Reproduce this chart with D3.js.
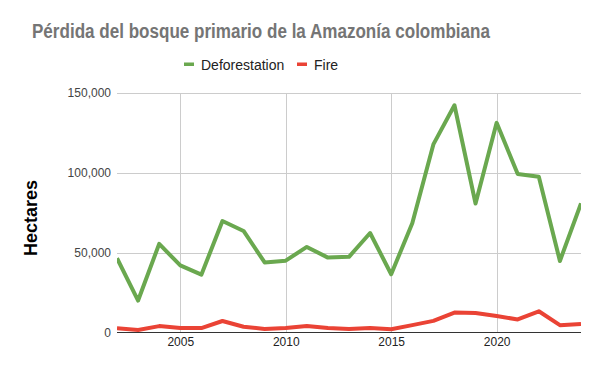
<!DOCTYPE html>
<html>
<head>
<meta charset="utf-8">
<script src="https://cdn.jsdelivr.net/npm/d3@7"></script>
<style>
  body { margin: 0; background: white; }
  svg { display: block; font-family: "Liberation Sans", Arial, sans-serif; }
</style>
</head>
<body>
<svg id="chart"></svg>
<script>
//data
const years = [2002, 2003, 2004, 2005, 2006, 2007, 2008, 2009, 2010, 2011, 2012, 2013,
               2014, 2015, 2016, 2017, 2018, 2019, 2020, 2021, 2022, 2023, 2024];
const deforestation = [46500, 20000, 55500, 42000, 36200, 69800, 63600, 43900, 45000, 53600, 46900, 47400,
                       62300, 36500, 68400, 117800, 142300, 80800, 131300, 99300, 97600, 44800, 80900];
const fire = [2600, 1600, 4000, 2800, 2800, 7200, 3600, 2200, 2800, 4000, 2800, 2200,
              2800, 2000, 4600, 7300, 12500, 12200, 10300, 8200, 13300, 4600, 5400];
const yTicks = [0, 50000, 100000, 150000];
const xTicks = [2005, 2010, 2015, 2020];
const seriesNames = ['Deforestation', 'Fire'];
const seriesColors = ['#6aa84f', '#ea4335'];

const w = 600, h = 371;
const plotL = 117, plotR = 581, plotT = 93, plotB = 332.5;

const svg = d3.select('#chart')
    .attr('width', w)
    .attr('height', h)

const x = d3.scaleLinear().domain([2002, 2024]).range([plotL, plotR])
const y = d3.scaleLinear().domain([0, 150000]).range([plotB, plotT])

//title (squeezed to the reference width)
svg.append('text')
    .attr('x', 32)
    .attr('y', 38)
    .attr('font-size', '20px')
    .attr('font-weight', 'bold')
    .attr('fill', '#757575')
    .attr('textLength', 458)
    .attr('lengthAdjust', 'spacingAndGlyphs')
    .text('Pérdida del bosque primario de la Amazonía colombiana')

//legend
const legendX = [184, 297];
const legend = svg.append('g')
seriesNames.forEach((name, i) => {
    legend.append('rect')
        .attr('x', legendX[i])
        .attr('y', 62.5)
        .attr('width', 10)
        .attr('height', 3.5)
        .attr('fill', seriesColors[i])
    legend.append('text')
        .attr('x', legendX[i] + 17)
        .attr('y', 69.5)
        .attr('font-size', '14px')
        .attr('fill', '#222')
        .text(name)
})

//gridlines
const grid = svg.append('g')
grid.selectAll('line.h')
    .data(yTicks.filter(d => d > 0))
    .enter()
    .append('line')
    .attr('x1', plotL)
    .attr('x2', plotR)
    .attr('y1', d => Math.round(y(d)) + 0.5)
    .attr('y2', d => Math.round(y(d)) + 0.5)
    .attr('stroke', '#cccccc')

grid.selectAll('line.v')
    .data(xTicks)
    .enter()
    .append('line')
    .attr('x1', d => Math.round(x(d)) + 0.5)
    .attr('x2', d => Math.round(x(d)) + 0.5)
    .attr('y1', plotT)
    .attr('y2', plotB)
    .attr('stroke', '#cccccc')

//y axis labels
const yAxis = svg.append('g')
    .attr('transform', 'translate(111,0)')
    .call(d3.axisLeft(y).tickValues(yTicks).tickSize(0).tickPadding(0).tickFormat(d3.format(',')))
yAxis.select('.domain').remove()
yAxis.selectAll('text')
    .attr('font-size', '12px')
    .attr('font-family', '"Liberation Sans", Arial, sans-serif')
    .attr('fill', '#444')

//x axis labels
const xAxis = svg.append('g')
    .attr('transform', 'translate(0,' + plotB + ')')
    .call(d3.axisBottom(x).tickValues(xTicks).tickSize(0).tickPadding(5).tickFormat(d3.format('d')))
xAxis.select('.domain').remove()
xAxis.selectAll('text')
    .attr('font-size', '12px')
    .attr('font-family', '"Liberation Sans", Arial, sans-serif')
    .attr('fill', '#222')

//y axis title
svg.append('text')
    .attr('transform', 'translate(37,218) rotate(-90)')
    .attr('text-anchor', 'middle')
    .attr('font-size', '18px')
    .attr('font-weight', 'bold')
    .attr('fill', '#000')
    .text('Hectares')

//lines
const clip = svg.append('clipPath').attr('id', 'plotClip')
clip.append('rect')
    .attr('x', plotL)
    .attr('y', 0)
    .attr('width', plotR - plotL)
    .attr('height', h)

const line = d3.line()
    .x(d => x(d[0]))
    .y(d => y(d[1]))

const lines = svg.append('g').attr('clip-path', 'url(#plotClip)')
;[deforestation, fire].forEach((vals, i) => {
    lines.append('path')
        .datum(years.map((yr, j) => [yr, vals[j]]))
        .attr('d', line)
        .attr('fill', 'none')
        .attr('stroke', seriesColors[i])
        .attr('stroke-width', 4)
        .attr('stroke-linejoin', 'round')
})

//baseline
svg.append('line')
    .attr('x1', plotL)
    .attr('x2', plotR)
    .attr('y1', 332.5)
    .attr('y2', 332.5)
    .attr('stroke', '#333')
</script>
</body>
</html>
